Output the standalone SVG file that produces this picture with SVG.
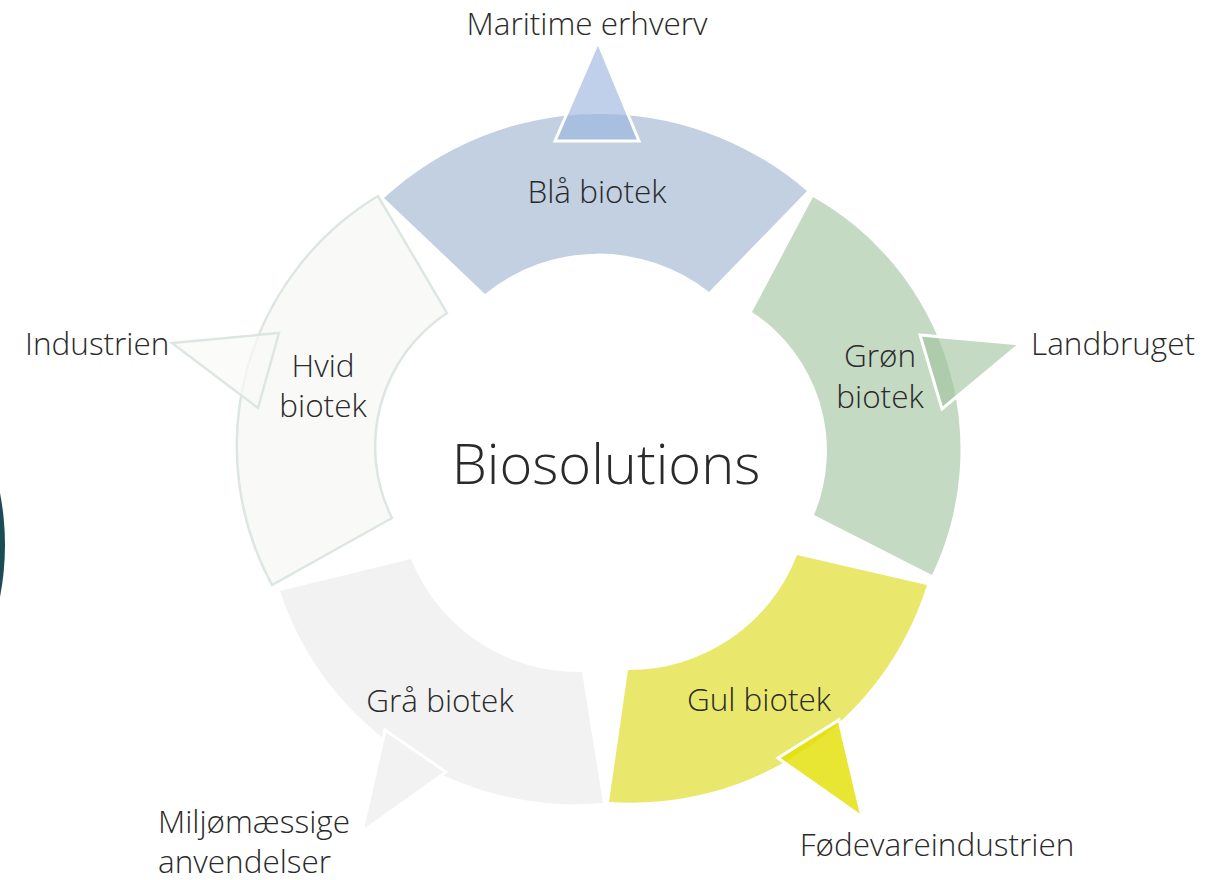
<svg xmlns="http://www.w3.org/2000/svg" width="1227" height="880" viewBox="0 0 1227 880">
<style>
text{font-family:"Open Sans","Noto Sans","Liberation Sans",sans-serif;font-weight:300;fill:#2a2a2a}
.seg{font-size:31.5px;text-anchor:middle}
.lab{font-size:31.5px}
.ptr{stroke:#ffffff;stroke-width:3;stroke-linejoin:miter}
</style>
<rect width="1227" height="880" fill="#ffffff"/>
<circle cx="-268" cy="545" r="273" fill="#1b4c55"/>
<g id="node-bla">
<path d="M485,294 L384,198 A318,318 0 0 1 807,191 L709,292 A179,179 0 0 0 485,294 Z" fill="#c2d0e2"/>
<text class="seg" x="597" y="203">Blå biotek</text>
</g>
<g id="node-gron">
<path d="M752,312 L813,197 A290,290 0 0 1 932,575 L814,515 A166,166 0 0 0 752,312 Z" fill="#c5dac3"/>
<text class="seg" x="880" y="367">Grøn</text>
<text class="seg" x="880" y="408">biotek</text>
</g>
<g id="node-gul">
<path d="M797,555 L927,585 A310,310 0 0 1 609,802 L628,670 A180,180 0 0 0 797,555 Z" fill="#eae86c"/>
<text class="seg" x="759" y="711">Gul biotek</text>
</g>
<g id="node-gra">
<path d="M582,672 L603,803 A310,310 0 0 1 280,591 L411,559 A180,180 0 0 0 582,672 Z" fill="#f2f2f2"/>
<text class="seg" x="440" y="712">Grå biotek</text>
</g>
<g id="node-hvid">
<path d="M392,518 L272,585 A292,292 0 0 1 378,196 L447,313 A160,160 0 0 0 392,518 Z" fill="#f9faf8" stroke="#dde6e3" stroke-width="2.5"/>
<text class="seg" x="323" y="377">Hvid</text>
<text class="seg" x="323" y="417">biotek</text>
</g>
<g id="connectors">
<polygon class="ptr" points="598,42 639,141 555,141" fill="#9cb4de" fill-opacity="0.63"/>
<polygon class="ptr" points="1020,344 942,409 920,335" fill="#9ec19b" fill-opacity="0.6"/>
<polygon class="ptr" points="862,817 778,758 839,720" fill="#e2df00" fill-opacity="0.8"/>
<polygon class="ptr" points="362,832 385,730 446,772" fill="#f2f2f2"/>
<polygon points="172,343 279,333 258,408" fill="#f9faf8" fill-opacity="0.7" stroke="#dde6e3" stroke-width="2.5"/>
</g>
<g id="labels">
<text class="lab" x="587" y="35" text-anchor="middle">Maritime erhverv</text>
<text class="lab" x="1031" y="355">Landbruget</text>
<text class="lab" x="937" y="856" text-anchor="middle">Fødevareindustrien</text>
<text class="lab" x="158" y="833">Miljømæssige</text>
<text class="lab" x="158" y="873">anvendelser</text>
<text class="lab" x="25" y="355">Industrien</text>
</g>
<g id="node-center">
<text x="606" y="484" text-anchor="middle" style="font-size:56px">Biosolutions</text>
</g>
</svg>
